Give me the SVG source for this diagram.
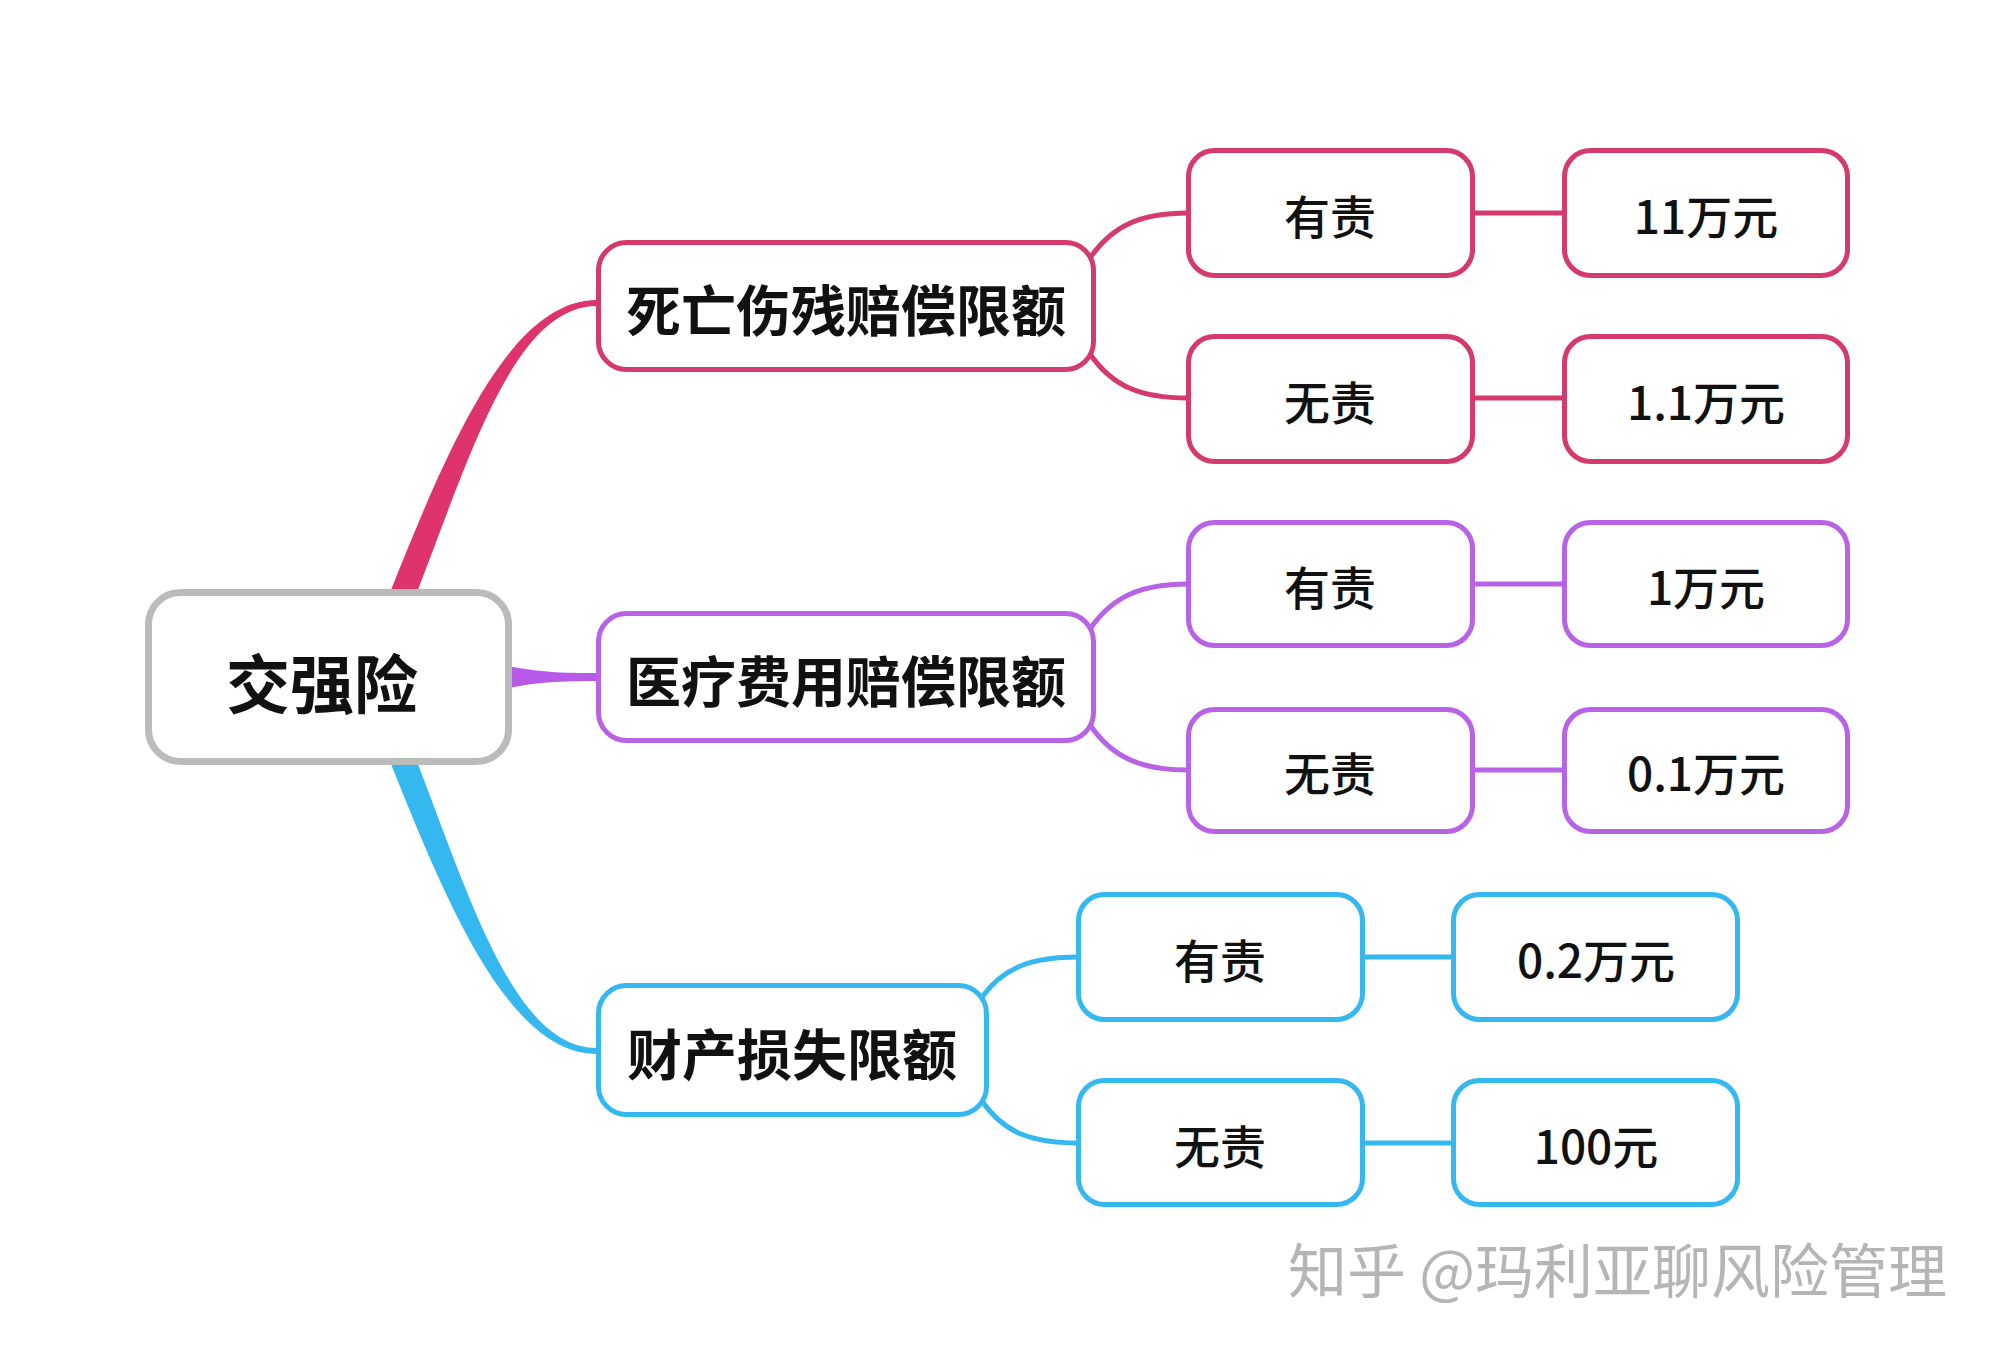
<svg xmlns="http://www.w3.org/2000/svg" width="1998" height="1356" viewBox="0 0 1998 1356">
  <style>
    .t { font-family: "Noto Sans CJK SC", "Noto Sans", sans-serif; fill: #111; text-anchor: middle; dominant-baseline: central; }
    .root-t { font-size: 64px; font-weight: 700; }
    .l1-t { font-size: 55px; font-weight: 700; }
    .l2-t { font-size: 46px; font-weight: 500; }
    .box { fill: #ffffff; stroke-width: 5; }
    .pink { stroke: #d43a6c; }
    .purple { stroke: #b862e6; }
    .blue { stroke: #35b7ef; }
    .conn { fill: none; stroke-width: 5; }
    .wm { font-family: "Noto Sans CJK SC", sans-serif; font-size: 59px; font-weight: 400; fill: #b5b5b5; }
  </style>
  <rect width="1998" height="1356" fill="#ffffff"/>

  <g id="connectors">
    <!-- root to level 1 (tapered) -->
    <path d="M 387 600 C 446 452, 508 300, 597 300 L 597 306 C 514 306, 470 456, 414 600 Z" fill="#df336d"/>
    <path d="M 505 665 C 535 672, 560 673, 598 673 L 598 681 C 560 681, 535 682, 505 689 Z" fill="#b75ae8"/>
    <path d="M 387 754 C 446 902, 508 1054, 597 1054 L 597 1048 C 514 1048, 470 898, 414 754 Z" fill="#35b7ef"/>

    <!-- level 1 to level 2 -->
    <path class="conn pink" d="M 1090 258 C 1112 226, 1140 213, 1188 213"/>
    <path class="conn pink" d="M 1090 354 C 1112 386, 1140 398, 1188 398"/>
    <path class="conn purple" d="M 1090 629 C 1112 597, 1140 584, 1188 584"/>
    <path class="conn purple" d="M 1090 725 C 1112 757, 1140 770, 1188 770"/>
    <path class="conn blue" d="M 982 997 C 1004 967, 1032 957, 1078 957"/>
    <path class="conn blue" d="M 982 1101 C 1004 1133, 1032 1143, 1078 1143"/>

    <!-- level 2 to values -->
    <line class="conn pink" x1="1473" y1="213" x2="1565" y2="213"/>
    <line class="conn pink" x1="1473" y1="398" x2="1565" y2="398"/>
    <line class="conn purple" x1="1473" y1="584" x2="1565" y2="584"/>
    <line class="conn purple" x1="1473" y1="770" x2="1565" y2="770"/>
    <line class="conn blue" x1="1363" y1="957" x2="1454" y2="957"/>
    <line class="conn blue" x1="1363" y1="1143" x2="1454" y2="1143"/>
  </g>

  <g id="root">
    <rect x="148.5" y="592.5" width="360" height="169" rx="32" fill="#ffffff" stroke="#bbbbbb" stroke-width="7"/>
    <text class="t root-t" x="322" y="680">交强险</text>
  </g>

  <g id="l1-death">
    <rect class="box pink" x="598.5" y="242.5" width="495" height="127" rx="28"/>
    <text class="t l1-t" x="846" y="307">死亡伤残赔偿限额</text>
  </g>
  <g id="l1-medical">
    <rect class="box purple" x="598.5" y="613.5" width="495" height="127" rx="28"/>
    <text class="t l1-t" x="846" y="678">医疗费用赔偿限额</text>
  </g>
  <g id="l1-property">
    <rect class="box blue" x="598.5" y="985.5" width="388" height="129" rx="28"/>
    <text class="t l1-t" x="792" y="1051">财产损失限额</text>
  </g>

  <g id="death-fault">
    <rect class="box pink" x="1188.5" y="150.5" width="284" height="125" rx="26"/>
    <text class="t l2-t" x="1330" y="214">有责</text>
  </g>
  <g id="death-fault-val">
    <rect class="box pink" x="1564.5" y="150.5" width="283" height="125" rx="26"/>
    <text class="t l2-t" x="1706" y="214">11万元</text>
  </g>
  <g id="death-nofault">
    <rect class="box pink" x="1188.5" y="336.5" width="284" height="125" rx="26"/>
    <text class="t l2-t" x="1330" y="400">无责</text>
  </g>
  <g id="death-nofault-val">
    <rect class="box pink" x="1564.5" y="336.5" width="283" height="125" rx="26"/>
    <text class="t l2-t" x="1706" y="400">1.1万元</text>
  </g>

  <g id="medical-fault">
    <rect class="box purple" x="1188.5" y="522.5" width="284" height="123" rx="26"/>
    <text class="t l2-t" x="1330" y="585">有责</text>
  </g>
  <g id="medical-fault-val">
    <rect class="box purple" x="1564.5" y="522.5" width="283" height="123" rx="26"/>
    <text class="t l2-t" x="1706" y="585">1万元</text>
  </g>
  <g id="medical-nofault">
    <rect class="box purple" x="1188.5" y="709.5" width="284" height="122" rx="26"/>
    <text class="t l2-t" x="1330" y="771">无责</text>
  </g>
  <g id="medical-nofault-val">
    <rect class="box purple" x="1564.5" y="709.5" width="283" height="122" rx="26"/>
    <text class="t l2-t" x="1706" y="771">0.1万元</text>
  </g>

  <g id="property-fault">
    <rect class="box blue" x="1078.5" y="894.5" width="284" height="125" rx="26"/>
    <text class="t l2-t" x="1220" y="958">有责</text>
  </g>
  <g id="property-fault-val">
    <rect class="box blue" x="1453.5" y="894.5" width="284" height="125" rx="26"/>
    <text class="t l2-t" x="1596" y="958">0.2万元</text>
  </g>
  <g id="property-nofault">
    <rect class="box blue" x="1078.5" y="1080.5" width="284" height="124" rx="26"/>
    <text class="t l2-t" x="1220" y="1144">无责</text>
  </g>
  <g id="property-nofault-val">
    <rect class="box blue" x="1453.5" y="1080.5" width="284" height="124" rx="26"/>
    <text class="t l2-t" x="1596" y="1144">100元</text>
  </g>

  <text class="wm" x="1288" y="1293">知乎 @玛利亚聊风险管理</text>
</svg>
